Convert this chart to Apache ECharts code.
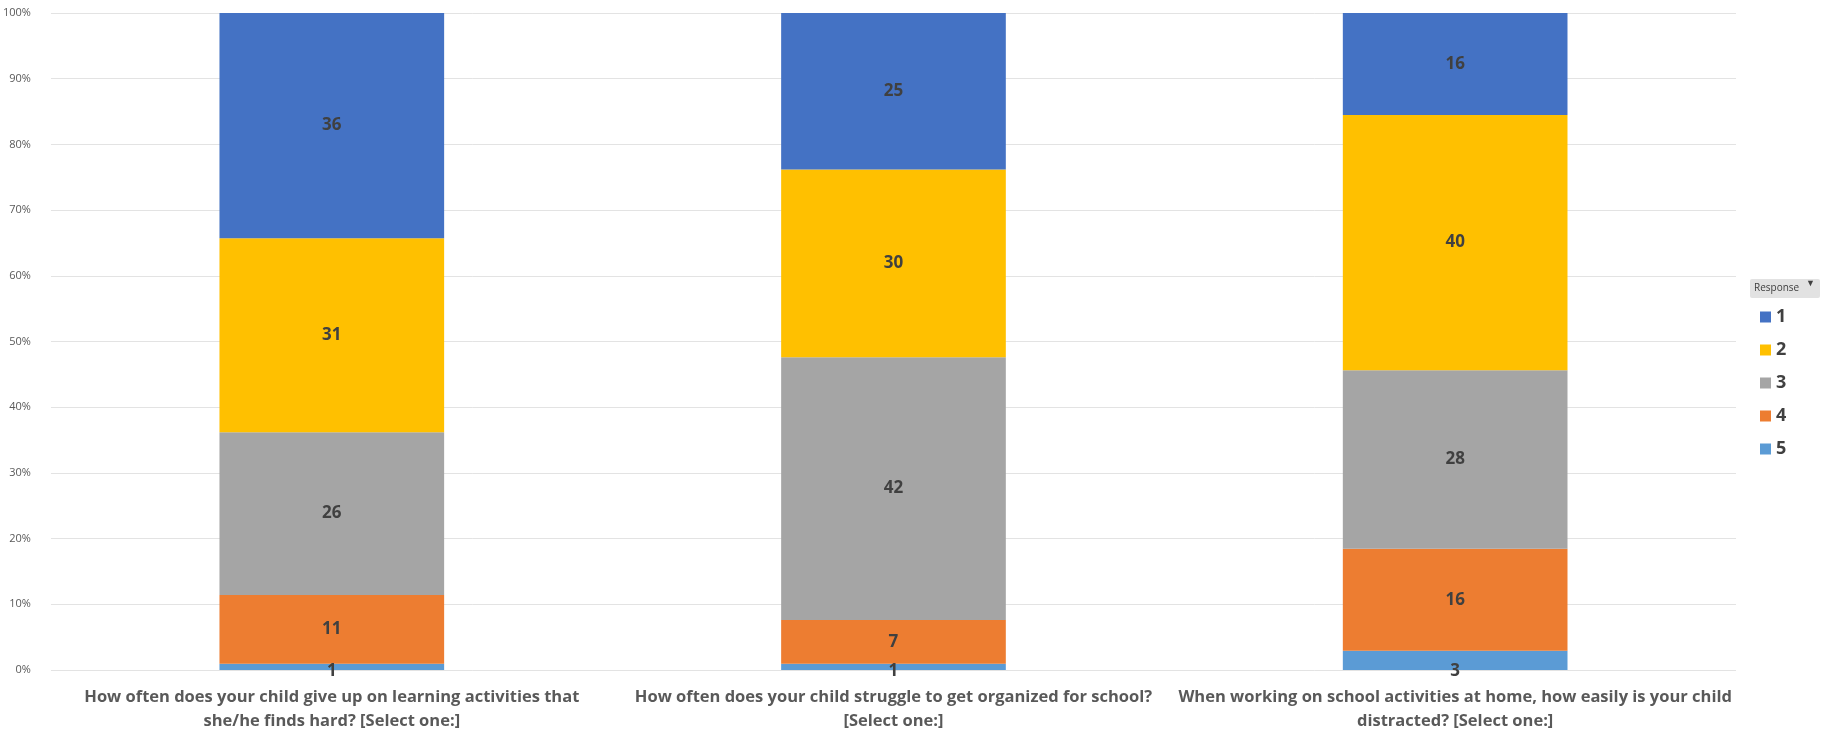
<!DOCTYPE html>
<html>
<head>
<meta charset="utf-8">
<script src="https://cdn.jsdelivr.net/npm/echarts@6/dist/echarts.min.js"></script>
<style>
  html, body { margin: 0; padding: 0; background: #fff; }
  #chart { width: 1845px; height: 733px; }
</style>
</head>
<body>
<div id="chart"></div>
<script>
// questions (x axis categories)
const questions = [
  'How often does your child give up on learning activities that\nshe/he finds hard? [Select one:]',
  'How often does your child struggle to get organized for school?\n[Select one:]',
  'When working on school activities at home, how easily is your child\ndistracted? [Select one:]'
];
// response counts per question
const resp1 = [36, 25, 16];
const resp2 = [31, 30, 40];
const resp3 = [26, 42, 28];
const resp4 = [11, 7, 16];
const resp5 = [1, 1, 3];
const yTicks = [0, 10, 20, 30, 40, 50, 60, 70, 80, 90, 100];

const colors = {
  '1': '#4472C4',
  '2': '#FFC000',
  '3': '#A5A5A5',
  '4': '#ED7D31',
  '5': '#5B9BD5'
};

const totals = questions.map((q, i) => resp1[i] + resp2[i] + resp3[i] + resp4[i] + resp5[i]);

// stacked bottom-up: 5,4,3,2,1
const stackOrder = [['5', resp5], ['4', resp4], ['3', resp3], ['2', resp2], ['1', resp1]];

const chart = echarts.init(document.getElementById('chart'));

const series = stackOrder.map(([name, counts]) => ({
  name: name,
  type: 'bar',
  stack: 'total',
  barWidth: '40%',
  itemStyle: { color: colors[name] },
  label: {
    show: true,
    position: 'inside',
    formatter: p => counts[p.dataIndex],
    color: '#404040',
    fontWeight: 'bold',
    fontSize: 17,
    fontFamily: 'Open Sans'
  },
  data: counts.map((c, i) => c / totals[i] * 100)
}));
// small bottom segments: label sits on the axis line like the reference
series[0].label.position = 'insideBottom';
series[0].label.distance = -10;

chart.setOption({
  animation: false,
  grid: { left: 50, right: 109, top: 13, bottom: 58 },
  legend: {
    orient: 'vertical',
    left: 1755,
    top: 303,
    itemWidth: 11,
    itemHeight: 11,
    itemGap: 15,
    icon: 'rect',
    data: ['1', '2', '3', '4', '5'],
    textStyle: { color: '#404040', fontSize: 18, fontWeight: 'bold', fontFamily: 'Open Sans' }
  },
  xAxis: {
    type: 'category',
    data: questions,
    axisLine: { show: false },
    axisTick: { show: false },
    axisLabel: {
      color: '#595959',
      fontWeight: 'bold',
      fontSize: 16.5,
      lineHeight: 24,
      margin: 15,
      fontFamily: 'Open Sans',
      interval: 0
    }
  },
  yAxis: {
    type: 'value',
    min: yTicks[0],
    max: yTicks[yTicks.length - 1],
    interval: 10,
    axisLabel: {
      formatter: '{value}%',
      color: '#595959',
      fontSize: 11,
      fontFamily: 'Open Sans',
      margin: 20
    },
    splitLine: { lineStyle: { color: '#e3e3e3' } }
  },
  graphic: [
    {
      type: 'rect',
      left: 1750,
      top: 279,
      shape: { width: 70, height: 19, r: 2 },
      style: { fill: '#e2e2e2' }
    },
    {
      type: 'text',
      left: 1754,
      top: 283,
      style: { text: 'Response', fill: '#404040', fontSize: 10, fontFamily: 'Open Sans' }
    },
    {
      type: 'text',
      left: 1806,
      top: 279,
      style: { text: '\u25BC', fill: '#404040', fontSize: 9 }
    }
  ],
  series: series
});
</script>
</body>
</html>
